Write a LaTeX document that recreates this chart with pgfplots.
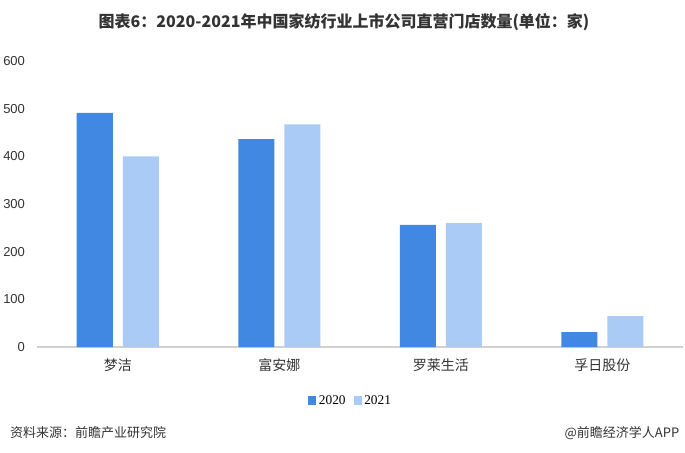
\documentclass[border=0pt]{standalone}
\usepackage{pgfplots}
\pgfplotsset{compat=1.18}
\usepackage{fontspec}
\setmainfont{Liberation Sans}
\newfontfamily\cjk{Noto Sans CJK SC}
\newfontfamily\legfont{Liberation Serif}

\definecolor{bluedark}{RGB}{65,136,226}
\definecolor{bluelight}{RGB}{170,203,246}
\definecolor{txt}{RGB}{51,51,51}

\begin{document}
\begin{tikzpicture}
% page = 685 x 453 px, 1px = 0.75pt
\useasboundingbox (0,0) rectangle (513.75pt,-339.75pt);

\node[font=\cjk\bfseries\fontsize{12}{14}\selectfont, text=txt] at (258pt,-16.5pt)
  {图表6：2020-2021年中国家纺行业上市公司直营门店数量(单位：家)};

\begin{axis}[
    at={(27.75pt,-260.25pt)}, anchor=south west,
    scale only axis,
    width=484.5pt, height=214.5pt,
    xmin=-0.5, xmax=3.5,
    ymin=0, ymax=600,
    ybar=7.5pt, bar width=27pt,
    axis lines*=left,
    x axis line style={draw=black!18, line width=0.8pt, -},
    y axis line style={draw=none},
    major tick length=0pt,
    xtick=data,
    xticklabels={梦洁, 富安娜, 罗莱生活, 孚日股份},
    xticklabel style={font=\cjk\fontsize{10.5}{12}\selectfont, text=txt, yshift=-5pt},
    ytick={0,100,...,600},
    yticklabel style={font=\fontsize{9.75}{11}\selectfont, text=txt, xshift=-5.5pt},
    /pgf/number format/assume math mode=true,
    legend style={at={(0.486,-0.189)}, anchor=center, draw=none, fill=none,
        legend columns=2, font=\legfont\fontsize{10}{11}\selectfont,
        /tikz/every even column/.append style={column sep=4pt},
        inner sep=0pt},
    legend image code/.code={\fill[#1] (0pt,-3pt) rectangle (6pt,4pt);},
]
\addplot[fill=bluedark, draw=none] coordinates {(0,491) (1,436) (2,256) (3,31)};
\addlegendentry{2020}
\addplot[fill=bluelight, draw=none] coordinates {(0,400) (1,467) (2,260) (3,65)};
\addlegendentry{2021}
\end{axis}

\node[font=\cjk\fontsize{9.75}{11}\selectfont, text=txt, anchor=west] at (4pt,-324.75pt)
  {资料来源：前瞻产业研究院};
\node[font=\cjk\fontsize{9.75}{11}\selectfont, text=txt, anchor=east] at (513pt,-324.75pt)
  {@前瞻经济学人APP};
\end{tikzpicture}
\end{document}
